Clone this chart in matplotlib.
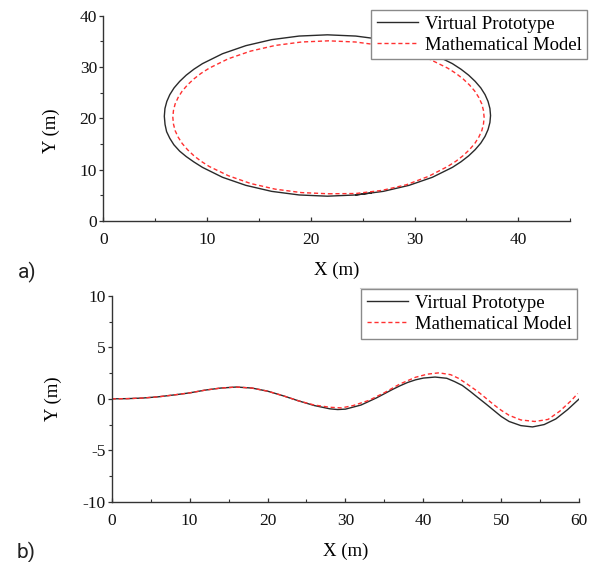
import matplotlib

matplotlib.use("Agg")
import matplotlib.pyplot as plt
from matplotlib.lines import Line2D
from matplotlib.ticker import MultipleLocator

# --- a) closed path (X, Y in m) ---
proto_x_a = [24.33, 26.98, 29.46, 31.71, 33.64, 34.47, 35.21, 35.84, 36.38, 36.79, 37.08, 37.26,
             37.32, 37.26, 37.08, 36.79, 36.38, 35.84, 35.21, 34.47, 33.64, 31.71, 29.46, 26.98,
             24.33, 21.6, 18.87, 16.22, 13.74, 11.49, 9.56, 8.73, 7.99, 7.36, 6.82, 6.41, 6.12,
             5.94, 5.88, 5.95, 6.1, 6.41, 6.8, 7.36, 7.99, 8.73, 9.56, 11.49, 13.74, 16.22, 18.87,
             21.6, 24.33, 25.8]
proto_y_a = [5.07, 5.77, 6.94, 8.51, 10.44, 11.53, 12.69, 13.9, 15.17, 16.48, 17.81, 19.18,
             20.55, 21.92, 23.29, 24.62, 25.93, 27.2, 28.41, 29.57, 30.66, 32.59, 34.16, 35.33,
             36.03, 36.27, 36.03, 35.33, 34.16, 32.59, 30.66, 29.57, 28.41, 27.2, 25.93, 24.62, 23.29,
             21.92, 20.4, 18.8, 17.4, 16.1, 14.85, 13.6, 12.55, 11.5, 10.44, 8.51, 6.94, 5.77, 5.07,
             4.83, 5.07, 5.45]

model_x_a = [21.7, 24.31, 26.83, 29.2, 31.35, 33.19, 33.99, 34.69, 35.29, 35.8, 36.19, 36.48,
             36.64, 36.7, 36.64, 36.48, 36.19, 35.8, 35.29, 34.69, 33.99, 33.19, 31.35, 29.2,
             26.83, 24.31, 21.7, 19.09, 16.57, 14.2, 12.05, 10.21, 9.41, 8.71, 8.11, 7.6, 7.21,
             6.92, 6.76, 6.7, 6.76, 6.92, 7.21, 7.6, 8.11, 8.71, 9.41, 10.21, 12.05, 14.2, 16.57,
             19.09, 21.7]
model_y_a = [5.3, 5.35, 5.95, 7.05, 8.7, 10.62, 11.65, 12.75, 13.9, 15.1, 16.34, 17.61,
             18.9, 20.2, 21.5, 22.79, 24.06, 25.3, 26.5, 27.65, 28.75, 29.78, 31.61, 33.1,
             34.2, 34.87, 35.1, 34.87, 34.2, 33.1, 31.61, 29.78, 28.75, 27.65, 26.5, 25.3, 24.06,
             22.79, 21.5, 20.2, 18.9, 17.61, 16.34, 15.1, 13.9, 12.75, 11.65, 10.62, 8.82, 7.3, 6.2,
             5.53, 5.3]

# --- b) lane change path ---
proto_x_b = [0, 2, 4, 6, 8, 10, 12, 14, 16, 18, 20, 22, 24, 26, 28, 29, 30, 32, 34, 36, 37, 38,
             39, 40, 41.5, 43, 44, 45, 46, 47, 48, 49, 50, 51, 52.5, 54, 55.5, 57, 58.5, 60]
proto_y_b = [0, 0.02, 0.08, 0.2, 0.38, 0.58, 0.85, 1.05, 1.15, 1.05, 0.75, 0.3, -0.2, -0.65,
             -0.97, -1.04, -1.0, -0.6, 0.1, 0.9, 1.27, 1.6, 1.85, 2.02, 2.12, 2.0, 1.68, 1.3,
             0.73, 0.12, -0.48, -1.1, -1.72, -2.2, -2.6, -2.73, -2.5, -1.95, -1.05, 0.0]

model_x_b = [0, 2, 4, 6, 8, 10, 12, 14, 16, 18, 20, 22, 24, 26, 28, 29.5, 31, 33, 35, 37, 39,
             40.5, 42, 43.5, 44.5, 45.5, 47, 48, 49, 50, 51, 52.5, 54.3, 56, 57.5, 59, 59.8]
model_y_b = [0, 0.02, 0.08, 0.2, 0.38, 0.58, 0.85, 1.05, 1.15, 1.05, 0.75, 0.3, -0.2, -0.6,
             -0.82, -0.88, -0.65, -0.15, 0.6, 1.45, 2.1, 2.4, 2.53, 2.35, 2.0, 1.5, 0.7, 0.08,
             -0.55, -1.12, -1.6, -2.05, -2.2, -2.0, -1.2, -0.15, 0.52]

labels = ["Virtual Prototype", "Mathematical Model"]

SERIF = ["Liberation Serif", "DejaVu Serif"]
BLACK = "#2a2a2a"
RED = "#ff3030"


def estilo_ejes(ax):
    for lado in ("top", "right"):
        ax.spines[lado].set_visible(False)
    for lado in ("left", "bottom"):
        ax.spines[lado].set_linewidth(1.0)
        ax.spines[lado].set_color("#333333")
    ax.tick_params(axis="x", which="both", direction="in", pad=8, labelsize=12.5,
                   colors="#333333", labelcolor="#111111")
    ax.tick_params(axis="y", which="both", direction="out", pad=1.5, labelsize=12.5,
                   colors="#333333", labelcolor="#111111")
    ax.tick_params(which="major", length=3, width=0.9)
    ax.tick_params(which="minor", length=2, width=0.8)
    for t in ax.get_xticklabels() + ax.get_yticklabels():
        t.set_family(SERIF)


def dibujar(ax, x1, y1, x2, y2):
    ax.plot(x1, y1, color=BLACK, linewidth=1.0, label=labels[0])
    ax.plot(x2, y2, color=RED, linewidth=1.0, linestyle=(0, (3, 2)), label=labels[1])


def leyenda(fig, ax, anchor):
    leg = ax.legend(loc="upper right", bbox_to_anchor=anchor, bbox_transform=fig.transFigure,
                    borderaxespad=0, prop={"family": SERIF, "size": 13.5}, frameon=True,
                    fancybox=False, handlelength=2.2, handletextpad=0.35, labelspacing=0.2,
                    borderpad=0.3)
    frame = leg.get_frame()
    frame.set_edgecolor("#8a8a8a")
    frame.set_linewidth(1.0)
    frame.set_alpha(1)


def main() -> None:
    plt.rcParams["axes.unicode_minus"] = False
    fig = plt.figure(figsize=(6.01, 5.62), dpi=100)

    ax_a = fig.add_axes([0.1719, 0.6068, 0.7769, 0.3653])
    dibujar(ax_a, proto_x_a, proto_y_a, model_x_a, model_y_a)
    ax_a.set_xlim(0, 45)
    ax_a.set_ylim(0, 40)
    ax_a.xaxis.set_major_locator(MultipleLocator(10))
    ax_a.xaxis.set_minor_locator(MultipleLocator(5))
    ax_a.yaxis.set_major_locator(MultipleLocator(10))
    ax_a.yaxis.set_minor_locator(MultipleLocator(5))
    estilo_ejes(ax_a)
    ax_a.set_xlabel("X (m)", family=SERIF, fontsize=13.5)
    ax_a.set_ylabel("Y (m)", family=SERIF, fontsize=13.5)
    ax_a.xaxis.set_label_coords(0.5, -0.197)
    ax_a.yaxis.set_label_coords(-0.093, 0.438)
    leyenda(fig, ax_a, (587.3 / 601, 1 - 10 / 562))

    ax_b = fig.add_axes([0.1858, 0.1073, 0.778, 0.366])
    dibujar(ax_b, proto_x_b, proto_y_b, model_x_b, model_y_b)
    ax_b.set_xlim(0, 60)
    ax_b.set_ylim(-10, 10)
    ax_b.xaxis.set_major_locator(MultipleLocator(10))
    ax_b.xaxis.set_minor_locator(MultipleLocator(5))
    ax_b.yaxis.set_major_locator(MultipleLocator(5))
    ax_b.yaxis.set_minor_locator(MultipleLocator(2.5))
    estilo_ejes(ax_b)
    ax_b.set_xlabel("X (m)", family=SERIF, fontsize=13.5)
    ax_b.set_ylabel("Y (m)", family=SERIF, fontsize=13.5)
    ax_b.xaxis.set_label_coords(0.5, -0.2)
    ax_b.yaxis.set_label_coords(-0.107, 0.5)
    leyenda(fig, ax_b, (577.3 / 601, 1 - 289.3 / 562))

    fig.text(18 / 601, 1 - 278 / 562, "a)", family="Roboto", fontsize=15, color="#222222",
             va="baseline", ha="left")
    fig.text(17 / 601, 1 - 558 / 562, "b)", family="Roboto", fontsize=15, color="#222222",
             va="baseline", ha="left")
    fig.add_artist(Line2D([360 / 601, 577 / 601], [1 - 288.3 / 562, 1 - 288.3 / 562],
                          transform=fig.transFigure, color="#c8c8c8", linewidth=0.8))

    fig.savefig("out.png", dpi=100)
    plt.close(fig)


if __name__ == "__main__":
    main()
